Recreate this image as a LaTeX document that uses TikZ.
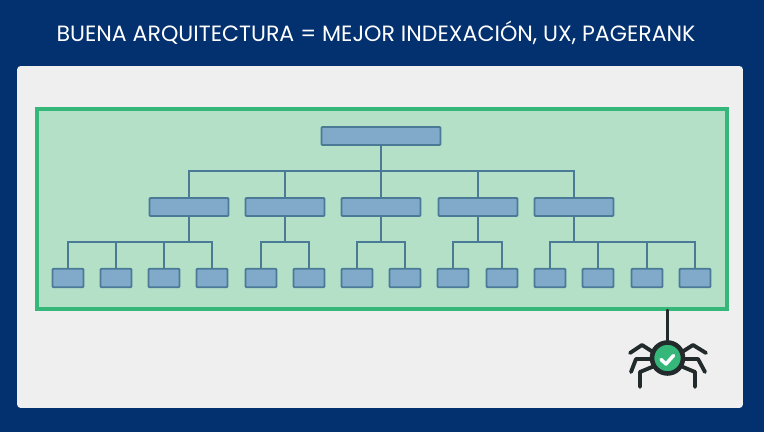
\documentclass[tikz,border=0pt]{standalone}
\usepackage{fontspec}
\setmainfont{Poppins}
\usetikzlibrary{positioning,calc}
\definecolor{navy}{HTML}{03306F}
\definecolor{panelgray}{HTML}{EFEFEF}
\definecolor{framefill}{HTML}{B5E0C8}
\definecolor{framegreen}{HTML}{35B779}
\definecolor{boxfill}{HTML}{80A9CA}
\definecolor{boxline}{HTML}{4A7A96}
\definecolor{spiderink}{HTML}{222A2C}
\begin{document}
\begin{tikzpicture}[
  x=0.02cm, y=-0.02cm,
  panel/.style={fill=panelgray, rounded corners=2pt, minimum width=14.52cm, minimum height=6.84cm, inner sep=0pt},
  frame/.style={draw=framegreen, fill=framefill, line width=2.2pt, minimum width=13.8cm, minimum height=4cm, inner sep=0pt},
  box/.style={draw=boxline, fill=boxfill, line width=1.1pt, rounded corners=0.6pt, inner sep=0pt},
  rootbox/.style={box, minimum width=2.38cm, minimum height=0.36cm},
  midbox/.style={box, minimum width=1.58cm, minimum height=0.36cm},
  leafbox/.style={box, minimum width=0.62cm, minimum height=0.37cm},
  link/.style={draw=boxline, line width=1.1pt},
  leg/.style={draw=spiderink, line width=2.2pt, line cap=round, line join=round}
]
\useasboundingbox (0,0) rectangle (764,432);
\fill[navy] (0,0) rectangle (764,432);
\node[text=white, font=\fontsize{12.58}{15}\selectfont, inner sep=0pt] (title) at (376,33) {BUENA ARQUITECTURA = MEJOR INDEXACIÓN, UX, PAGERANK};
\node[panel] (panel) at (380,237) {};
\node[frame] (frame) at (382,209) {};
\node[rootbox] (box-root) at (381,136) {};
\node[midbox] (box-mid-1) at (189,207) {};
\node[midbox] (box-mid-2) at (285,207) {};
\node[midbox] (box-mid-3) at (381,207) {};
\node[midbox] (box-mid-4) at (478,207) {};
\node[midbox] (box-mid-5) at (574,207) {};
\node[leafbox] (box-leaf-1) at (68,278) {};
\node[leafbox] (box-leaf-2) at (116,278) {};
\node[leafbox] (box-leaf-3) at (164,278) {};
\node[leafbox] (box-leaf-4) at (212,278) {};
\node[leafbox] (box-leaf-5) at (261,278) {};
\node[leafbox] (box-leaf-6) at (309,278) {};
\node[leafbox] (box-leaf-7) at (357,278) {};
\node[leafbox] (box-leaf-8) at (405,278) {};
\node[leafbox] (box-leaf-9) at (453,278) {};
\node[leafbox] (box-leaf-10) at (502,278) {};
\node[leafbox] (box-leaf-11) at (550,278) {};
\node[leafbox] (box-leaf-12) at (598,278) {};
\node[leafbox] (box-leaf-13) at (647,278) {};
\node[leafbox] (box-leaf-14) at (695,278) {};
\foreach \n in {1,...,5} \draw[link] (box-root.south) -- ++(0,25.5) -| (box-mid-\n.north);
\foreach \n in {1,...,4} \draw[link] (box-mid-1.south) -- ++(0,25.5) -| (box-leaf-\n.north);
\foreach \n in {5,6} \draw[link] (box-mid-2.south) -- ++(0,25.5) -| (box-leaf-\n.north);
\foreach \n in {7,8} \draw[link] (box-mid-3.south) -- ++(0,25.5) -| (box-leaf-\n.north);
\foreach \n in {9,10} \draw[link] (box-mid-4.south) -- ++(0,25.5) -| (box-leaf-\n.north);
\foreach \n in {11,...,14} \draw[link] (box-mid-5.south) -- ++(0,25.5) -| (box-leaf-\n.north);
\draw[leg] (630,353) -- (642,345) -- (653,352);
\draw[leg] (631,372) -- (636,359) -- (652,359);
\draw[leg] (640,387) -- (640,372) -- (652,367);
\draw[leg] (706,353) -- (693,345) -- (682,352);
\draw[leg] (705,372) -- (698,359) -- (683,359);
\draw[leg] (695,387) -- (695,372) -- (683,367);
\node[circle, draw=spiderink, fill=framegreen, line width=2.6pt, minimum size=0.62cm, inner sep=0pt] (spider) at (667.5,358) {};
\draw[leg] (frame.south -| spider) -- (spider.north);
\draw[white, line width=2pt, line cap=round, line join=round] (661,359.5) -- (666,364) -- (673.5,355.5);
\end{tikzpicture}
\end{document}
